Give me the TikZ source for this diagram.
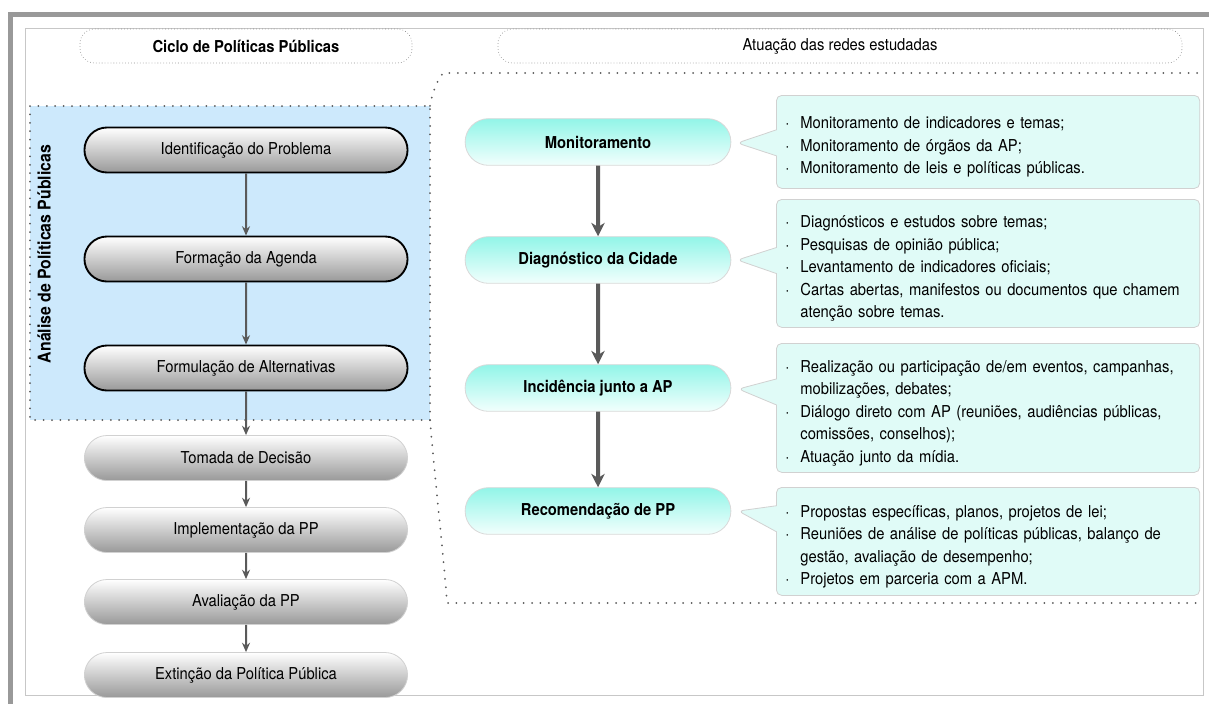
\documentclass[tikz,border=0pt]{standalone}
\usepackage{fontspec}
\setmainfont{TeX Gyre Heros}[FakeStretch=0.9]
\usetikzlibrary{arrows.meta, shapes.misc, shapes.callouts, calc}
\definecolor{bluebg}{RGB}{205,233,252}
\definecolor{tealtop}{RGB}{146,245,232}
\definecolor{tealbot}{RGB}{242,255,253}
\definecolor{tealbox}{RGB}{224,251,247}
\definecolor{arrowgray}{RGB}{90,90,90}
\newcommand{\actitem}{\par\noindent\hangindent=11.25pt\hangafter=1\makebox[11.25pt][l]{\textperiodcentered}}
\tikzset{
  txt/.style={font=\fontsize{12.3}{16.9}\selectfont},
  bigdots/.style={draw=black!65, line width=1.5pt, line cap=round, dash pattern=on 0pt off 6.3pt},
  titlebox/.style={txt, draw=black!55, line width=0.6pt, line cap=round, dash pattern=on 0pt off 2.2pt, rounded corners=11pt, minimum height=25.5pt},
  cycstep/.style={txt, rounded rectangle, minimum width=249pt, minimum height=33.75pt, top color=white, bottom color=black!40},
  cycin/.style={cycstep, draw=black, line width=1.4pt},
  cycout/.style={cycstep, draw=black!18, line width=0.6pt},
  cycarrow/.style={draw=arrowgray, line width=1.5pt, -{Stealth[length=7pt, width=6pt]}},
  actstep/.style={txt, font=\bfseries\fontsize{12.3}{16.9}\selectfont, rounded rectangle, minimum width=206pt, minimum height=35pt, top color=tealtop, bottom color=tealbot, draw=black!15, line width=0.6pt},
  actarrow/.style={draw=arrowgray, line width=3pt, -{Stealth[length=10pt, width=10pt, inset=3pt]}},
  actbox/.style={txt, rectangle callout, callout pointer width=19.5pt, fill=tealbox, draw=black!18, line width=0.6pt, rounded corners=4pt, text width=304pt, inner xsep=6.75pt, align=left, anchor=north west},
}
\begin{document}
\begin{tikzpicture}[x=0.75pt, y=-0.75pt]
    \useasboundingbox (0,0) rectangle (1209,704);
    % page frame with shadow
    \fill[black!40] (8,12) rectangle (1209,704);
    \fill[white] (13,17) rectangle (1209,704);
    \draw[black!22, line width=0.75pt] (25,28) rectangle (1203,695);

    % analysis area and dotted outline
    \draw[bigdots, fill=bluebg] (30,106) rectangle (430,420);
    \draw[bigdots] (1197,73) -- (443,73) .. controls (436,82) and (432,95) .. (430,106);
    \draw[bigdots] (430,420) .. controls (435,480) and (444,560) .. (447,603) -- (1197,603);
    \node (apl) at (44,254) [rotate=90, font=\bfseries\fontsize{13.2}{16}\selectfont] {Análise de Políticas Públicas};

    % headers
    \node (hcyc) at (246,46) [titlebox, minimum width=249pt, font=\bfseries\fontsize{12.3}{16.9}\selectfont] {Ciclo de Políticas Públicas};
    \node (hact) at (840,46) [titlebox, minimum width=513pt] {Atuação das redes estudadas};

    % policy cycle
    \node (id) at (246,150) [cycin] {Identificação do Problema};
    \node (ag) at (246,259) [cycin] {Formação da Agenda};
    \node (fa) at (246,368) [cycin] {Formulação de Alternativas};
    \node (td) at (246,458) [cycout] {Tomada de Decisão};
    \node (ip) at (246,530) [cycout] {Implementação da PP};
    \node (av) at (246,602) [cycout] {Avaliação da PP};
    \node (ex) at (246,675) [cycout] {Extinção da Política Pública};
    \draw[cycarrow] (id) -- (ag);
    \draw[cycarrow] (ag) -- (fa);
    \draw[cycarrow] (fa) -- (td);
    \draw[cycarrow] (td) -- (ip);
    \draw[cycarrow] (ip) -- (av);
    \draw[cycarrow] (av) -- (ex);

    % network actions
    \node (mon) at (598,142) [actstep] {Monitoramento};
    \node (diag) at (598,260) [actstep] {Diagnóstico da Cidade};
    \node (inc) at (598,388) [actstep] {Incidência junto a AP};
    \node (rec) at (598,511) [actstep] {Recomendação de PP};
    \draw[actarrow] (mon) -- (diag);
    \draw[actarrow] (diag) -- (inc);
    \draw[actarrow] (inc) -- (rec);

    \node (bmon) at (776,95) [actbox, minimum height=69.75pt, callout absolute pointer={($(mon.east)+(6,1)$)}]
      {\actitem Monitoramento de indicadores e temas;
       \actitem Monitoramento de órgãos da AP;
       \actitem Monitoramento de leis e políticas públicas.\par};
    \node (bdiag) at (776,199) [actbox, minimum height=96pt, callout absolute pointer={($(diag.east)+(6,0)$)}]
      {\actitem Diagnósticos e estudos sobre temas;
       \actitem Pesquisas de opinião pública;
       \actitem Levantamento de indicadores oficiais;
       \actitem Cartas abertas, manifestos ou documentos que chamem\newline atenção sobre temas.\par};
    \node (binc) at (776,343) [actbox, minimum height=96.75pt, callout absolute pointer={($(inc.east)+(7,1)$)}]
      {\actitem Realização ou participação de/em eventos, campanhas,\newline mobilizações, debates;
       \actitem Diálogo direto com AP (reuniões, audiências públicas,\newline comissões, conselhos);
       \actitem Atuação junto da mídia.\par};
    \node (brec) at (776,487) [actbox, minimum height=81pt, callout absolute pointer={($(rec.east)+(7,0)$)}]
      {\actitem Propostas específicas, planos, projetos de lei;
       \actitem Reuniões de análise de políticas públicas, balanço de\newline gestão, avaliação de desempenho;
       \actitem Projetos em parceria com a APM.\par};
\end{tikzpicture}
\end{document}
